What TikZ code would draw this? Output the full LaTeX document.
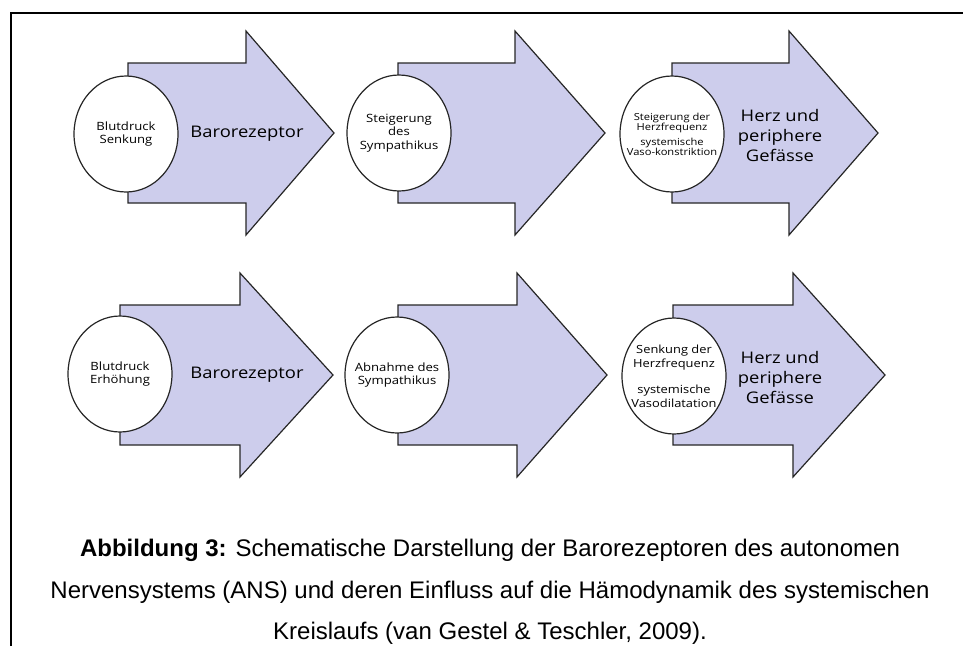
\documentclass[tikz,border=0pt]{standalone}
\usepackage{fontspec}
\setmainfont{Liberation Sans}
\newfontfamily\diafont{Open Sans}[FakeStretch=1.15]
\usetikzlibrary{shapes.geometric}
\definecolor{pfeilfarbe}{RGB}{205,205,236}
\def\pfeil(#1,#2,#3,#4){\filldraw[pfeil] (#1, #2-70) -- (#3, #2-70) -- (#3, #2-102) -- (#4, #2) -- (#3, #2+102) -- (#3, #2+70) -- (#1, #2+70) -- cycle;}
\tikzset{
	pfeil/.style={fill=pfeilfarbe, draw=black!85, line width=1.2pt, line join=miter},
	kreis/.style={ellipse, draw=black!85, fill=white, line width=1.2pt, minimum width=104pt, minimum height=116pt, inner sep=0pt},
	kreistext/.style={align=center, inner sep=0pt, font=\diafont\fontsize{11.4}{13.4}\selectfont},
	pfeiltext/.style={align=center, inner sep=0pt, font=\diafont\fontsize{16}{20}\selectfont}
}
\begin{document}
\begin{tikzpicture}[x=1pt, y=-1pt]
			%%%%% START %%%%%
			\useasboundingbox (0, 0) rectangle (963, 646);
			
			\draw[line width=2pt] (11, 646) -- (11, 13) -- (963, 13);
			
			% obere Reihe
			\pfeil(128,133,246,334)
			\pfeil(398,133,515,605)
			\pfeil(672,133,789,878)
			
			\node[kreis] (senkung) at (126, 134) {};
			\node[kreistext] (senkungtext) at (senkung) {Blutdruck\\Senkung};
			\node[pfeiltext] (baro1) at (247, 134) {Barorezeptor};
			
			\node[kreis] (steigerung) at (399, 133) {};
			\node[kreistext] (steigerungtext) at (steigerung) {Steigerung\\des\\Sympathikus};
			
			\node[kreis] (frequenz1) at (672, 134) {};
			\node[kreistext, font=\diafont\fontsize{9.7}{10}\selectfont] (frequenz1text) at (frequenz1) {Steigerung der\\Herzfrequenz\\[5pt]systemische\\Vaso-konstriktion};
			\node[pfeiltext] (herz1) at (780, 135) {Herz und\\periphere\\Gefässe};
			
			% untere Reihe
			\pfeil(120,375,240,333)
			\pfeil(398,375,517,607)
			\pfeil(673,375,793,885)
			
			\node[kreis] (erhoehung) at (120, 374) {};
			\node[kreistext] (erhoehungtext) at (erhoehung) {Blutdruck\\Erhöhung};
			\node[pfeiltext] (baro2) at (247, 375) {Barorezeptor};
			
			\node[kreis] (abnahme) at (397, 375) {};
			\node[kreistext] (abnahmetext) at (abnahme) {Abnahme des\\Sympathikus};
			
			\node[kreis] (frequenz2) at (674, 376) {};
			\node[kreistext, font=\diafont\fontsize{11.2}{14}\selectfont] (frequenz2text) at (frequenz2) {Senkung der\\Herzfrequenz\\[12pt]systemische\\Vasodilatation};
			\node[pfeiltext] (herz2) at (780, 377) {Herz und\\periphere\\Gefässe};
			
			% Bildunterschrift
			\node[anchor=north, align=center, inner sep=0pt, font=\fontsize{24}{41.5}\selectfont] (unterschrift) at (490, 539) {\textbf{Abbildung 3:} Schematische Darstellung der Barorezeptoren des autonomen\\Nervensystems (ANS) und deren Einfluss auf die Hämodynamik des systemischen\\Kreislaufs (van Gestel \& Teschler, 2009).};
			
			%%%%% END %%%%%
\end{tikzpicture}
\end{document}
